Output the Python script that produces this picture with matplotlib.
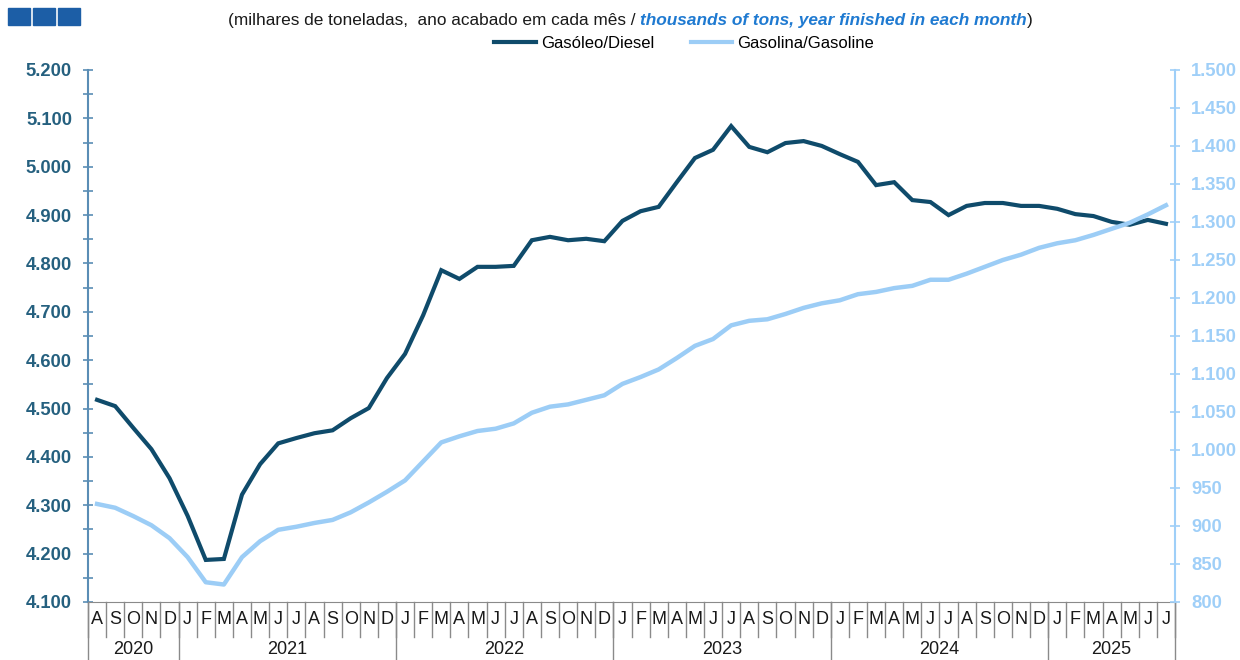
import numpy as np
import matplotlib
matplotlib.use('Agg')
import matplotlib.pyplot as plt
from matplotlib.patches import Rectangle
from matplotlib.ticker import FuncFormatter, MultipleLocator

plt.rcParams['font.family'] = ['Liberation Sans', 'DejaVu Sans']

# month letters, Aug 2020 .. Jul 2025
months = ['A', 'S', 'O', 'N', 'D'] + \
    ['J', 'F', 'M', 'A', 'M', 'J', 'J', 'A', 'S', 'O', 'N', 'D'] * 4 + \
    ['J', 'F', 'M', 'A', 'M', 'J', 'J']
years = ['2020', '2021', '2022', '2023', '2024', '2025']
months_per_year = [5, 12, 12, 12, 12, 7]

# rolling 12-month consumption, thousand tons
diesel = [4518, 4505, 4460, 4416, 4356,
          4278, 4187, 4189, 4322, 4385, 4428, 4439, 4449, 4455, 4480, 4501, 4563,
          4613, 4693, 4786, 4768, 4793, 4793, 4795, 4848, 4855, 4848, 4851, 4846,
          4888, 4908, 4917, 4968, 5018, 5035, 5084, 5041, 5030, 5049, 5053, 5043,
          5026, 5010, 4962, 4968, 4931, 4927, 4900, 4919, 4925, 4925, 4919, 4919,
          4913, 4902, 4898, 4886, 4880, 4890, 4882]
gasoline = [929, 924, 913, 901, 884,
            859, 826, 823, 859, 880, 895, 899, 904, 908, 918, 931, 945,
            960, 985, 1010, 1018, 1025, 1028, 1035, 1049, 1057, 1060, 1066, 1072,
            1087, 1096, 1106, 1121, 1137, 1146, 1164, 1170, 1172, 1179, 1187, 1193,
            1197, 1205, 1208, 1213, 1216, 1224, 1224, 1232, 1241, 1250, 1257, 1266,
            1272, 1276, 1283, 1291, 1299, 1310, 1322]

DIESEL_COLOR = '#0f4b6b'
GASOLINE_COLOR = '#9ccdf6'
LEFT_COLOR = '#25607f'
LEFT_SPINE = '#5a8db5'
RIGHT_COLOR = '#9fcff8'
GRID_GRAY = '#8a8a8a'


def pt_thousands(v, pos):
    return f'{v:,.0f}'.replace(',', '.')


fig = plt.figure(figsize=(12.4, 6.6), dpi=100)
W, H = 1240, 660
ax = fig.add_axes([88 / W, 1 - 602 / H, (1175 - 88) / W, (602 - 70) / H])

x = np.arange(len(diesel))
ax.plot(x, diesel, color=DIESEL_COLOR, lw=3, solid_joinstyle='miter')
ax.set_xlim(-0.5, len(diesel) - 0.5)
ax.set_ylim(4100, 5200)

ax2 = ax.twinx()
ax2.plot(x, gasoline, color=GASOLINE_COLOR, lw=3.2)
ax2.set_ylim(800, 1500)

# spines
for s in ['top', 'right']:
    ax.spines[s].set_visible(False)
for s in ['top', 'left', 'bottom']:
    ax2.spines[s].set_visible(False)
ax.spines['left'].set_color(LEFT_SPINE)
ax.spines['left'].set_linewidth(1.5)
ax2.spines['right'].set_color(RIGHT_COLOR)
ax2.spines['right'].set_linewidth(1.5)
ax.spines['bottom'].set_color(GRID_GRAY)

# left axis
ax.yaxis.set_major_locator(MultipleLocator(100))
ax.yaxis.set_minor_locator(MultipleLocator(50))
ax.yaxis.set_major_formatter(FuncFormatter(pt_thousands))
ax.tick_params(axis='y', which='both', direction='inout', colors=LEFT_SPINE,
               labelcolor=LEFT_COLOR, length=7, width=1.2, pad=8)
for lab in ax.get_yticklabels():
    lab.set_fontweight('bold')
    lab.set_fontsize(13.2)

# right axis
ax2.yaxis.set_major_locator(MultipleLocator(50))
ax2.yaxis.set_major_formatter(FuncFormatter(pt_thousands))
ax2.tick_params(axis='y', direction='inout', colors=RIGHT_COLOR,
                labelcolor=RIGHT_COLOR, length=7, width=1.2, pad=8)
for lab in ax2.get_yticklabels():
    lab.set_fontweight('bold')
    lab.set_fontsize(13.2)

# month / year category axis
ax.set_xticks([])
trans = ax.get_xaxis_transform()
ph = 602 - 70
for i, m in enumerate(months):
    ax.text(i, -18 / ph, m, transform=trans, ha='center', va='center',
            fontsize=13, color='#1a1a1a', clip_on=False)
for k in range(len(months) + 1):
    ax.plot([k - 0.5, k - 0.5], [0, -35 / ph], transform=trans,
            color=GRID_GRAY, lw=1, clip_on=False)
bounds = np.concatenate([[0], np.cumsum(months_per_year)])
for b in bounds:
    ax.plot([b - 0.5, b - 0.5], [0, -60 / ph], transform=trans,
            color=GRID_GRAY, lw=1, clip_on=False)
for yr, a, b in zip(years, bounds[:-1], bounds[1:]):
    ax.text((a + b - 1) / 2, -48 / ph, yr, transform=trans, ha='center',
            va='center', fontsize=13, color='#1a1a1a', clip_on=False)

# header squares
for i in range(3):
    fig.patches.append(Rectangle(((8 + 25 * i) / W, 1 - 25 / H), 22 / W, 17 / H,
                                 transform=fig.transFigure, color='#1c5ea6'))

# subtitle with bilingual parts
renderer = fig.canvas.get_renderer()
parts = [('(milhares de toneladas,  ano acabado em cada mês / ', '#1a1a1a', 'normal', 'normal'),
         ('thousands of tons, year finished in each month', '#1f7ad1', 'italic', 'bold'),
         (')', '#1a1a1a', 'normal', 'normal')]
xpos = 228
for txt, col, style, weight in parts:
    t = fig.text(xpos / W, 1 - 20 / H, txt, color=col, fontstyle=style,
                 fontweight=weight, fontsize=12.4, ha='left', va='center')
    bb = t.get_window_extent(renderer=renderer)
    xpos = bb.x1

# legend
h1, = ax.plot([], [], color=DIESEL_COLOR, lw=3)
h2, = ax.plot([], [], color=GASOLINE_COLOR, lw=3)
fig.legend([h1, h2], ['Gasóleo/Diesel', 'Gasolina/Gasoline'], ncol=2,
           loc='center', bbox_to_anchor=(684 / W, 1 - 43 / H), frameon=False,
           fontsize=12, handlelength=2.5, handletextpad=0.3, columnspacing=2.2)

fig.savefig('out.png', dpi=100)
